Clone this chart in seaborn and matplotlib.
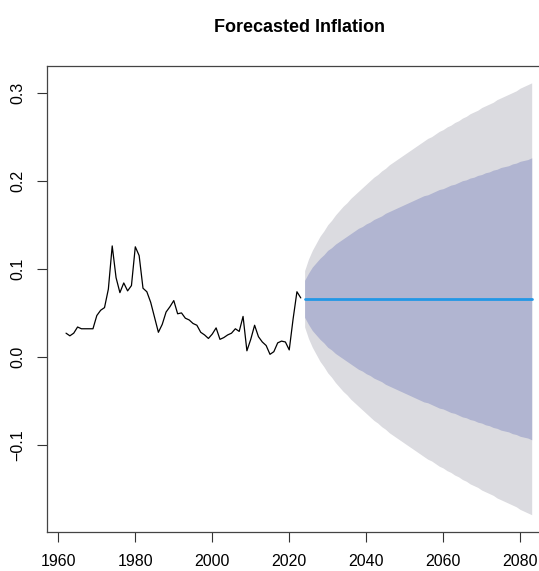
import pandas as pd
import numpy as np
import matplotlib
matplotlib.use("Agg")
import matplotlib.pyplot as plt
import seaborn as sns

#---------- data ----------
hist_years = list(range(1962, 2024))
inflation = [0.027, 0.024, 0.027, 0.034, 0.032, 0.032, 0.032, 0.032, 0.047, 0.053,
             0.056, 0.077, 0.126, 0.090, 0.073, 0.084, 0.075, 0.081, 0.125, 0.115,
             0.078, 0.074, 0.062, 0.045, 0.028, 0.037, 0.051, 0.057, 0.064, 0.049,
             0.050, 0.044, 0.042, 0.038, 0.036, 0.028, 0.025, 0.021, 0.026, 0.033,
             0.020, 0.022, 0.025, 0.027, 0.032, 0.029, 0.046, 0.007, 0.020, 0.036,
             0.023, 0.017, 0.013, 0.003, 0.006, 0.016, 0.018, 0.017, 0.008, 0.043,
             0.074, 0.067]

fc_years = list(range(2024, 2084))
fc_mean = [0.066] * 60
hi80 = [0.087, 0.095, 0.102, 0.107, 0.112, 0.116, 0.121, 0.124, 0.128, 0.131,
        0.134, 0.137, 0.140, 0.143, 0.146, 0.148, 0.151, 0.153, 0.156, 0.158,
        0.160, 0.163, 0.165, 0.167, 0.169, 0.171, 0.173, 0.175, 0.177, 0.179,
        0.181, 0.183, 0.184, 0.186, 0.188, 0.190, 0.191, 0.193, 0.195, 0.196,
        0.198, 0.200, 0.201, 0.203, 0.204, 0.206, 0.207, 0.209, 0.210, 0.212,
        0.213, 0.215, 0.216, 0.217, 0.219, 0.220, 0.222, 0.223, 0.224, 0.226]
lo80 = [0.045, 0.037, 0.030, 0.025, 0.020, 0.016, 0.011, 0.008, 0.004, 0.001,
        -0.002, -0.005, -0.008, -0.011, -0.014, -0.016, -0.019, -0.021, -0.024, -0.026,
        -0.028, -0.031, -0.033, -0.035, -0.037, -0.039, -0.041, -0.043, -0.045, -0.047,
        -0.049, -0.051, -0.052, -0.054, -0.056, -0.058, -0.059, -0.061, -0.063, -0.064,
        -0.066, -0.068, -0.069, -0.071, -0.072, -0.074, -0.075, -0.077, -0.078, -0.080,
        -0.081, -0.083, -0.084, -0.085, -0.087, -0.088, -0.090, -0.091, -0.092, -0.094]
hi95 = [0.098, 0.111, 0.121, 0.129, 0.137, 0.143, 0.150, 0.155, 0.161, 0.166,
        0.171, 0.175, 0.180, 0.184, 0.188, 0.192, 0.196, 0.200, 0.204, 0.207,
        0.211, 0.214, 0.218, 0.221, 0.224, 0.227, 0.230, 0.233, 0.236, 0.239,
        0.242, 0.245, 0.248, 0.250, 0.253, 0.256, 0.258, 0.261, 0.263, 0.266,
        0.268, 0.271, 0.273, 0.276, 0.278, 0.280, 0.283, 0.285, 0.287, 0.289,
        0.292, 0.294, 0.296, 0.298, 0.300, 0.302, 0.305, 0.307, 0.309, 0.311]
lo95 = [0.034, 0.021, 0.011, 0.003, -0.005, -0.011, -0.018, -0.023, -0.029, -0.034,
        -0.039, -0.043, -0.048, -0.052, -0.056, -0.060, -0.064, -0.068, -0.072, -0.075,
        -0.079, -0.082, -0.086, -0.089, -0.092, -0.095, -0.098, -0.101, -0.104, -0.107,
        -0.110, -0.113, -0.116, -0.118, -0.121, -0.124, -0.126, -0.129, -0.131, -0.134,
        -0.136, -0.139, -0.141, -0.144, -0.146, -0.148, -0.151, -0.153, -0.155, -0.157,
        -0.160, -0.162, -0.164, -0.166, -0.168, -0.170, -0.173, -0.175, -0.177, -0.179]

x_ticks = [1960, 1980, 2000, 2020, 2040, 2060, 2080]
y_ticks = [-0.1, 0.0, 0.1, 0.2, 0.3]

hist = pd.DataFrame({"year": hist_years, "value": inflation})
fc = pd.DataFrame({"year": fc_years, "mean": fc_mean,
                   "lo80": lo80, "hi80": hi80, "lo95": lo95, "hi95": hi95})

#---------- style ----------
sns.set_style("white")
plt.rcParams["font.family"] = ["Liberation Sans", "DejaVu Sans"]

fig = plt.figure(figsize=(5.39, 5.71), dpi=100)
ax = fig.add_axes([47.4 / 539, 1 - 532 / 571, 1 - 47.4 / 539, (532 - 65.6) / 571])

#---------- forecast bands ----------
ax.fill_between(fc["year"], fc["lo95"], fc["hi95"], color="#DBDBE0", lw=0)
ax.fill_between(fc["year"], fc["lo80"], fc["hi80"], color="#B1B5D1", lw=0)

#---------- lines ----------
sns.lineplot(data=hist, x="year", y="value", ax=ax, color="black", lw=0.9)
sns.lineplot(data=fc, x="year", y="mean", ax=ax, color="#2297E6", lw=2)

ax.set_xlim(1957.16, 2084.9)
ax.set_ylim(-0.1986, 0.3306)
ax.set_xticks(x_ticks)
ax.set_xticklabels([str(t) for t in x_ticks], fontsize=11.5)
ax.set_yticks(y_ticks)
ax.set_yticklabels([f"{t:.1f}".replace("-", "\u2212") for t in y_ticks],
                   fontsize=11.5, rotation=90, va="center")
ax.set_xlabel("")
ax.set_ylabel("")
ax.tick_params(direction="out", length=7.2, width=0.8, color="#333333", pad=9,
               bottom=True, left=True, labelcolor="black")

for side in ["left", "bottom", "top"]:
    ax.spines[side].set_color("#444444")
    ax.spines[side].set_linewidth(0.9)
ax.spines["right"].set_visible(False)

fig.text(299 / 539, 1 - 28 / 571, "Forecasted Inflation", ha="center", va="center",
         fontsize=13, fontweight="bold", color="black")

plt.savefig("out.png", dpi=100)
